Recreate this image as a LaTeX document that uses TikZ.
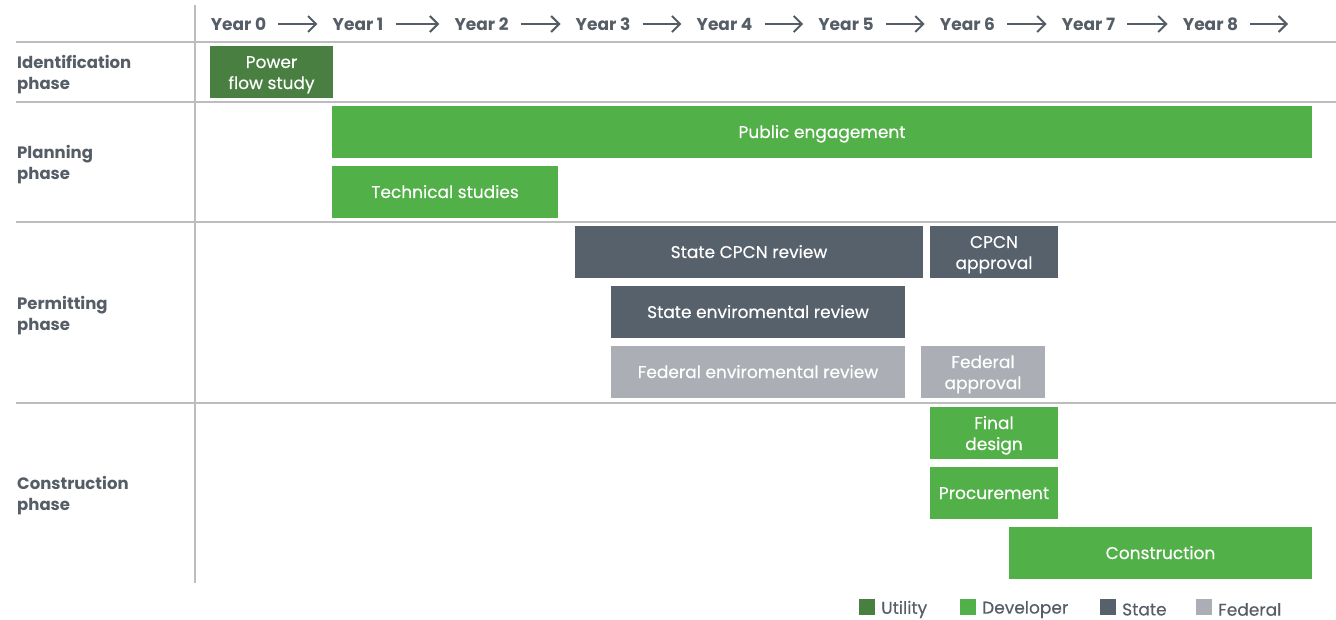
\documentclass[tikz,border=0pt]{standalone}
\usepackage{fontspec}
\setmainfont{Poppins}
\newfontfamily\medfont[FakeBold=0.35]{Poppins}
\usetikzlibrary{arrows.meta}
\definecolor{utility}{HTML}{4A7F42}
\definecolor{developer}{HTML}{52B048}
\definecolor{state}{HTML}{57616B}
\definecolor{federal}{HTML}{ABAFB5}
\definecolor{ink}{HTML}{555D66}
\definecolor{rulegray}{HTML}{BDBDBD}
\tikzset{
  bar/.style={fill=#1, text=white, inner sep=0pt, minimum height=52pt, align=center,
    text height=12pt, text depth=0pt, font=\medfont\fontsize{17}{21}\selectfont},
  two lines/.style={text height=34pt, text depth=0pt},
  year/.style={text=ink, inner sep=0pt, font=\bfseries\fontsize{17}{20}\selectfont},
  phase/.style={text=ink, inner sep=0pt, anchor=west, align=left, font=\bfseries\fontsize{16.5}{21}\selectfont},
  keybox/.style={fill=#1, inner sep=0pt, minimum size=16pt},
  keytext/.style={text=ink, inner sep=0pt, anchor=west, font=\medfont\fontsize{17}{20}\selectfont},
  grid line/.style={rulegray, line width=2pt},
  step arrow/.style={ink, line width=2pt, -{Straight Barb[length=8pt,width=16pt,line width=2pt]}, shorten <=12pt, shorten >=15pt}
}
\begin{document}
\begin{tikzpicture}[x=1pt,y=-1pt]
\useasboundingbox (0,0) rectangle (1336,620);

\draw[grid line] (195,5) -- (195,583);
\draw[grid line] (16,42) -- (1336,42);
\draw[grid line] (16,102) -- (1336,102);
\draw[grid line] (16,222) -- (1336,222);
\draw[grid line] (16,403) -- (1336,403);

\node[year] (y0) at (238.5,24) {Year 0};
\node[year] (y1) at (358,24) {Year 1};
\node[year] (y2) at (481.5,24) {Year 2};
\node[year] (y3) at (603,24) {Year 3};
\node[year] (y4) at (724.5,24) {Year 4};
\node[year] (y5) at (846,24) {Year 5};
\node[year] (y6) at (967.5,24) {Year 6};
\node[year] (y7) at (1088.5,24) {Year 7};
\node[year] (y8) at (1210.5,24) {Year 8};
\coordinate (yend) at (1303,24);
\draw[step arrow] (y0.east) -- (y1.west);
\draw[step arrow] (y1.east) -- (y2.west);
\draw[step arrow] (y2.east) -- (y3.west);
\draw[step arrow] (y3.east) -- (y4.west);
\draw[step arrow] (y4.east) -- (y5.west);
\draw[step arrow] (y5.east) -- (y6.west);
\draw[step arrow] (y6.east) -- (y7.west);
\draw[step arrow] (y7.east) -- (y8.west);
\draw[step arrow] (y8.east) -- (yend);

\node[phase] (identification) at (17,75) {Identification\\phase};
\node[phase] (planning) at (17,165) {Planning\\phase};
\node[phase] (permitting) at (17,316) {Permitting\\phase};
\node[phase] (construction) at (17,496) {Construction\\phase};

\node[bar=utility, two lines, minimum width=123pt] (powerflow) at (271.5,72) {Power\\flow study};
\node[bar=developer, minimum width=980pt] (engagement) at (822,132) {Public engagement};
\node[bar=developer, minimum width=226pt] (technical) at (445,192) {Technical studies};
\node[bar=state, minimum width=348pt] (cpcnreview) at (749,252) {State CPCN review};
\node[bar=state, two lines, minimum width=128pt] (cpcnapproval) at (994,252) {CPCN\\approval};
\node[bar=state, minimum width=294pt] (stateenv) at (758,312) {State enviromental review};
\node[bar=federal, minimum width=294pt] (fedenv) at (758,372) {Federal enviromental review};
\node[bar=federal, two lines, minimum width=124pt] (fedapproval) at (983,372) {Federal\\approval};
\node[bar=developer, two lines, minimum width=128pt] (finaldesign) at (994,433) {Final\\design};
\node[bar=developer, minimum width=128pt] (procurement) at (994,493) {Procurement};
\node[bar=developer, minimum width=303pt] (build) at (1160.5,553) {Construction};

\node[keybox=utility] (kutility) at (867,606.5) {};
\node[keytext] (tutility) at (881,609.5) {Utility};
\node[keybox=developer] (kdeveloper) at (968,606.5) {};
\node[keytext] (tdeveloper) at (982,609.5) {Developer};
\node[keybox=state] (kstate) at (1108,606.5) {};
\node[keytext] (tstate) at (1122,609.5) {State};
\node[keybox=federal] (kfederal) at (1204,606.5) {};
\node[keytext] (tfederal) at (1218,609.5) {Federal};
\end{tikzpicture}
\end{document}
